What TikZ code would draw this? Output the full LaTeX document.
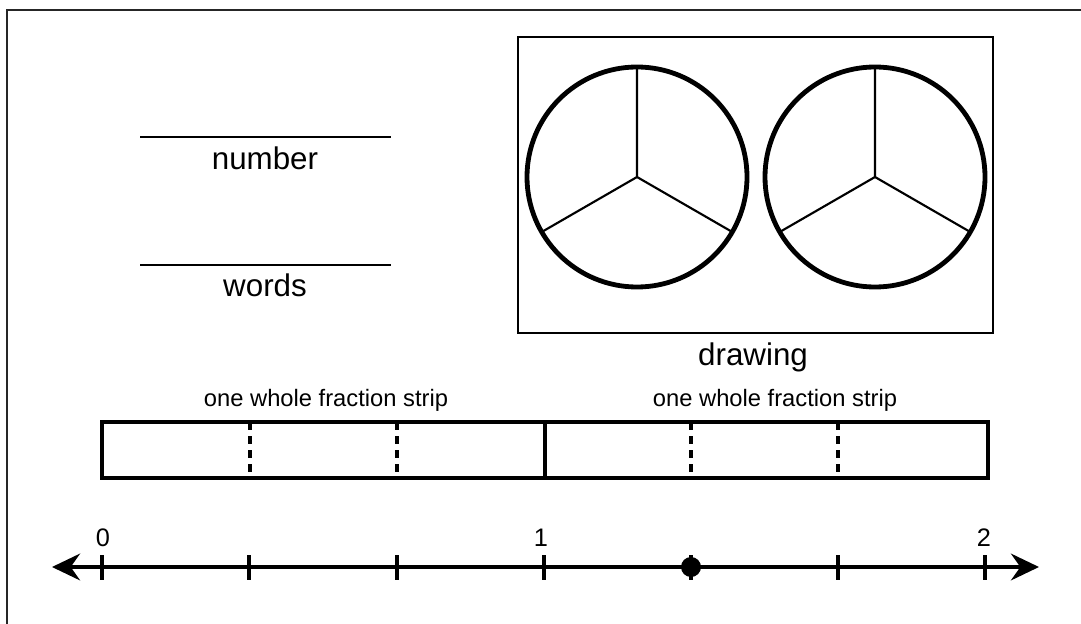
\documentclass[tikz,border=0pt]{standalone}
\usepackage{fontspec}
\setmainfont{Liberation Sans}
\usetikzlibrary{arrows.meta}
\tikzset{
  lbl/.style={font=\fontsize{23.5}{27}\selectfont, anchor=base, inner sep=0pt},
  striplbl/.style={font=\fontsize{17.8}{21}\selectfont, anchor=base, inner sep=0pt},
  numlbl/.style={font=\fontsize{19}{22}\selectfont, anchor=base, inner sep=0pt},
  pie/.style={line width=3.6pt},
  spoke/.style={line width=1.6pt},
  tick/.style={line width=2.6pt},
}
\begin{document}
\begin{tikzpicture}[x=0.75pt,y=-0.75pt]
\useasboundingbox (0,0) rectangle (1081,624);
\clip (0,0) rectangle (1081,624);
% outer frame (cut off at right and bottom)
\draw[line width=1.7pt, draw=black!85] (7,10) rectangle (1100,640);
% blanks
\draw[line width=1.8pt] (140,137) -- (391,137);
\node[lbl] (number) at (265,170) {number};
\draw[line width=1.8pt] (140,265) -- (391,265);
\node[lbl] (words) at (265,296) {words};
% drawing box
\draw[line width=1.8pt] (518,37) rectangle (993,333);
\node[lbl] (drawing) at (753,365) {drawing};
\foreach \cx in {637,875}{
  \coordinate (c) at (\cx,177);
  \draw[spoke] (c) -- ++(0,-110) (c) -- ++(-95.3,55) (c) -- ++(95.3,55);
  \draw[pie] (c) circle[radius=110];
}
% fraction strips
\node[striplbl] (s1) at (326,406) {one whole fraction strip};
\node[striplbl] (s2) at (775,406) {one whole fraction strip};
\draw[line width=2.7pt] (102,422) rectangle (988,478);
\draw[line width=2.5pt] (545,422) -- (545,478);
\foreach \x in {250,397,691,838}{
  \draw[line width=2.4pt, dash pattern=on 6pt off 4.5pt] (\x,422) -- (\x,478);
}
% number line
\coordinate (L) at (52,567);
\coordinate (R) at (1039,567);
\draw[line width=2.9pt, {Stealth[length=21pt,width=20pt,inset=7pt]}-{Stealth[length=21pt,width=20pt,inset=7pt]}] (L) -- (R);
\foreach \x in {102,249,397,544,691,838,985}{
  \draw[tick] (\x,555) -- (\x,580);
}
\node[numlbl] (n0) at (103,546) {0};
\node[numlbl] (n1) at (541,546) {1};
\node[numlbl] (n2) at (984,546) {2};
\fill (691,567) circle[radius=10];
\end{tikzpicture}
\end{document}
